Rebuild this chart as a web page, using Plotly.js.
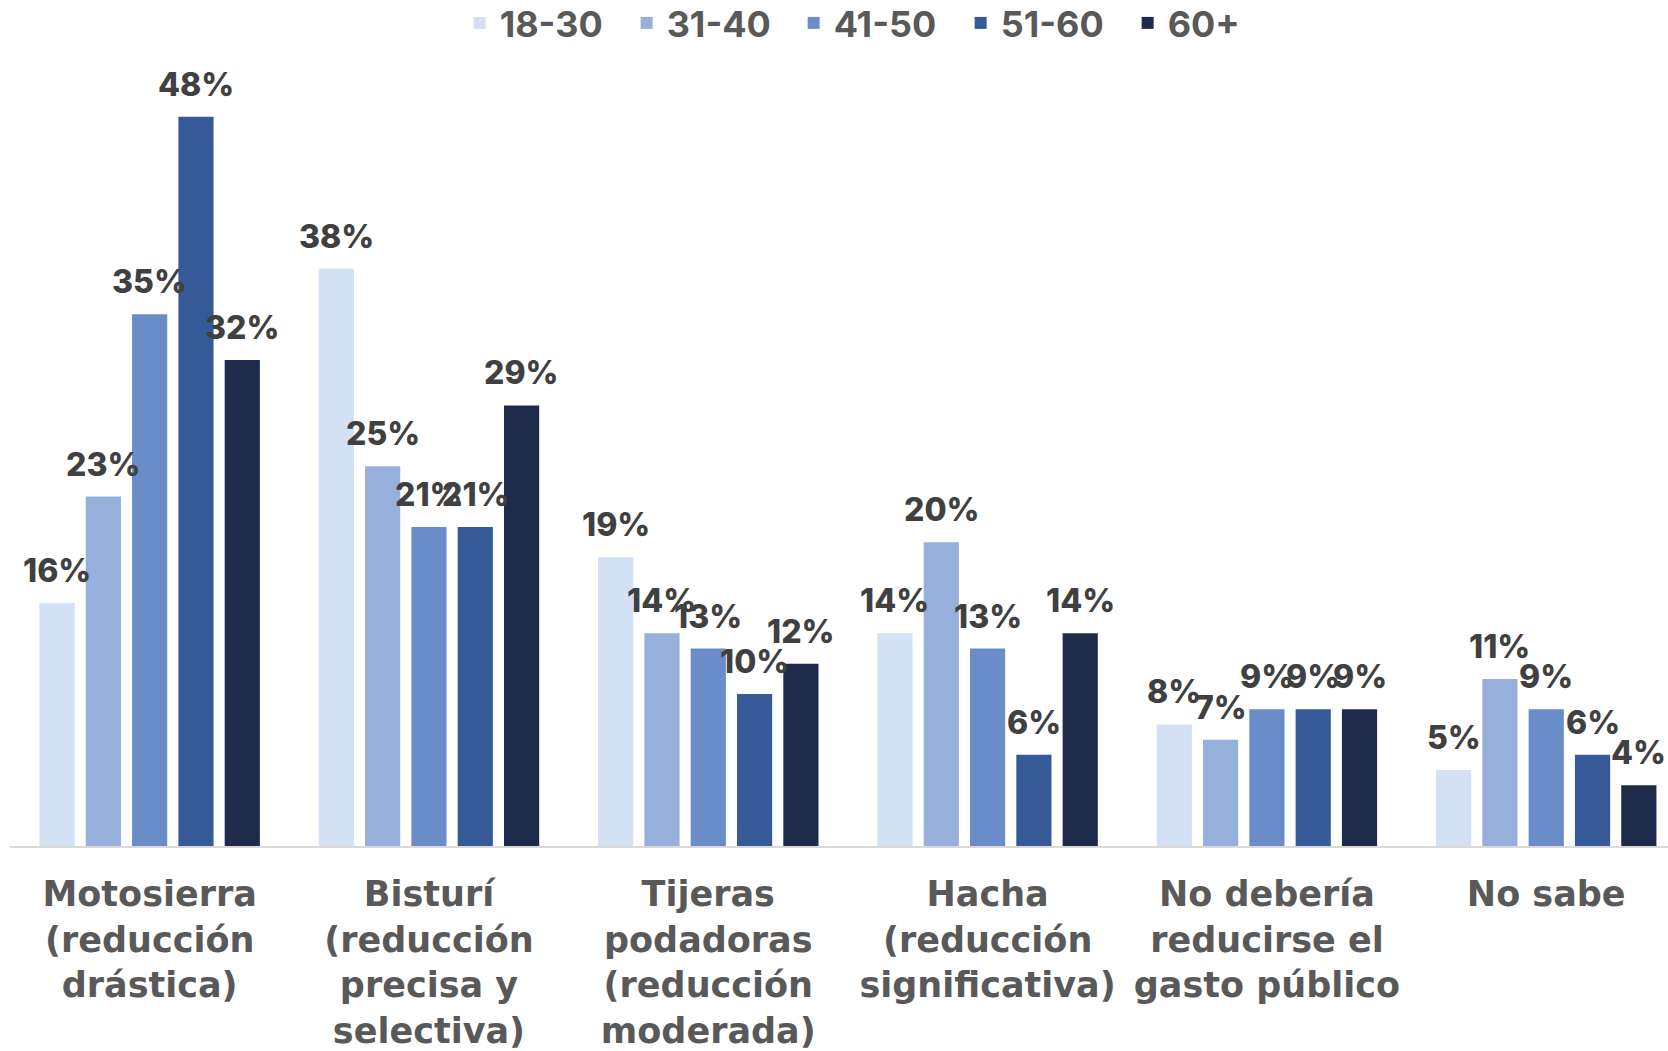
<!DOCTYPE html>
<html>
<head>
<meta charset="utf-8">
<script src="https://cdn.plot.ly/plotly-3.0.1.min.js"></script>
<style>
html,body{margin:0;padding:0;background:#fff;}
#chart{width:1668px;height:1051px;}
</style>
</head>
<body>
<div id="chart"></div>
<script>
const categories = [
  "Motosierra<br>(reducción<br>drástica)",
  "Bisturí<br>(reducción<br>precisa y<br>selectiva)",
  "Tijeras<br>podadoras<br>(reducción<br>moderada)",
  "Hacha<br>(reducción<br>significativa)",
  "No debería<br>reducirse el<br>gasto público",
  "No sabe"
];
const seriesNames = ["18-30", "31-40", "41-50", "51-60", "60+"];
const v18_30 = [16, 38, 19, 14, 8, 5];
const v31_40 = [23, 25, 14, 20, 7, 11];
const v41_50 = [35, 21, 13, 13, 9, 9];
const v51_60 = [48, 21, 10, 6, 9, 6];
const v60plus = [32, 29, 12, 14, 9, 4];
const seriesValues = [v18_30, v31_40, v41_50, v51_60, v60plus];
const colors = ["#D4E0F3", "#97AFDB", "#6A8CC9", "#365A97", "#1E2B4B"];

const FONT = "Inter, 'Open Sans', sans-serif";
const TICKFONT = "'DejaVu Sans', sans-serif";
const W = 1668, H = 1051;
const M = {l: 10, r: 0, t: 60, b: 205, autoexpand: false};
const XRANGE = [-0.5, 5.436];
const BARGAP = 0.171, GROUPGAP = 0.24;

const traces = seriesNames.map((name, i) => ({
  type: "bar",
  name: name,
  x: categories,
  y: seriesValues[i],
  marker: {color: colors[i]},
  textposition: "none",
  hoverinfo: "skip"
}));

// data labels as annotations placed above each bar through the axes
const catPx = (W - M.l - M.r) / (XRANGE[1] - XRANGE[0]);
const slotPx = catPx * (1 - BARGAP) / seriesNames.length;
const annotations = [];
seriesValues.forEach((vals, i) => {
  vals.forEach((v, j) => {
    annotations.push({
      x: categories[j], y: v, xref: "x", yref: "y",
      xshift: (i - (seriesNames.length - 1) / 2) * slotPx,
      yshift: 11,
      yanchor: "bottom", xanchor: "center",
      showarrow: false,
      text: v + "%",
      font: {family: FONT, size: 32, color: "#404040", weight: 800}
    });
  });
});

const layout = {
  width: W,
  height: H,
  paper_bgcolor: "#fff",
  plot_bgcolor: "#fff",
  margin: M,
  barmode: "group",
  bargap: BARGAP,
  bargroupgap: GROUPGAP,
  showlegend: true,
  legend: {
    orientation: "h",
    x: 0.523, xanchor: "center",
    y: 1 + (60 - 23) / 786, yref: "paper", yanchor: "middle",
    font: {family: FONT, size: 36, color: "#595959", weight: 700},
    itemwidth: 30,
    entrywidth: 122,
    entrywidthmode: "pixels",
    traceorder: "normal"
  },
  annotations: annotations,
  xaxis: {
    type: "category",
    range: XRANGE,
    showline: true,
    linecolor: "#D9D9D9",
    linewidth: 2,
    ticks: "",
    tickfont: {family: TICKFONT, size: 35, color: "#595959", weight: 700},
    ticklabelstandoff: 16
  },
  yaxis: {
    range: [0, 51.74],
    visible: false,
    showgrid: false,
    zeroline: false
  }
};

Plotly.newPlot("chart", traces, layout, {staticPlot: true, displayModeBar: false});
</script>
</body>
</html>
